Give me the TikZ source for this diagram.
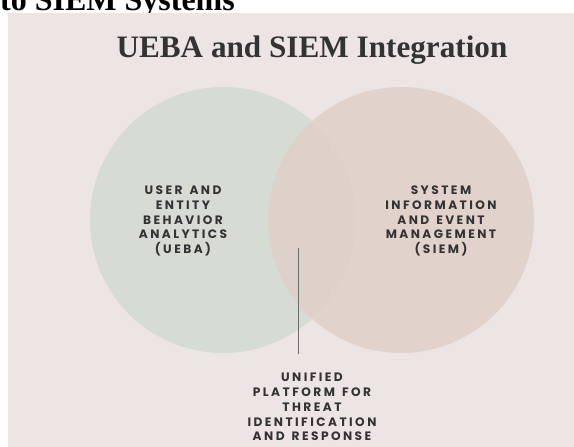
\documentclass[tikz,border=0pt]{standalone}
\usepackage{fontspec}
\setmainfont{Liberation Serif}
\newfontfamily\capsfont[LetterSpace=20,WordSpace=1.4]{Poppins}
\usepackage{tikz}
\usetikzlibrary{positioning}

\definecolor{panelbg}{RGB}{237,229,227}
\definecolor{uebafill}{RGB}{214,219,212}
\definecolor{siemfill}{RGB}{224,208,200}
\definecolor{inkgray}{RGB}{51,51,51}

\begin{document}
\begin{tikzpicture}[
  x=1pt, y=-1pt,
  circ/.style={circle, minimum size=266pt, inner sep=0pt},
  caps/.style={align=center, text=inkgray, font=\capsfont\bfseries\fontsize{12.2}{14.8}\selectfont},
  joinline/.style={draw=gray!85!black, line width=0.8pt}
]
\useasboundingbox (0,0) rectangle (574,447);

% Cut-off heading above the slide
\node[anchor=base west, inner sep=0pt, font=\bfseries\fontsize{32}{32}\selectfont] (head) at (0,10) {to SIEM Systems};

% Slide background
\fill[panelbg] (8,13) rectangle (574,447);

% Title
\node[anchor=base, inner sep=0pt, text=inkgray, font=\bfseries\fontsize{31.2}{32}\selectfont] (title) at (312,57) {UEBA and SIEM Integration};

% The two circles
\node[circ, fill=uebafill] (ueba) at (223,220) {};
\node[circ, fill=siemfill, fill opacity=0.85] (siem) at (401,220) {};

% Circle labels
\node[caps] (uebatext) at (183,221) {USER AND\\ENTITY\\BEHAVIOR\\ANALYTICS\\(UEBA)};
\node[caps] (siemtext) at (441,221) {SYSTEM\\INFORMATION\\AND EVENT\\MANAGEMENT\\(SIEM)};

% Pointer down to the shared result
\coordinate (lnTop) at (298,248);
\coordinate (lnBot) at (298,354);
\draw[joinline] (lnTop) -- (lnBot);

\node[caps] (unified) at (312,407) {UNIFIED\\PLATFORM FOR\\THREAT\\IDENTIFICATION\\AND RESPONSE};

\end{tikzpicture}
\end{document}
